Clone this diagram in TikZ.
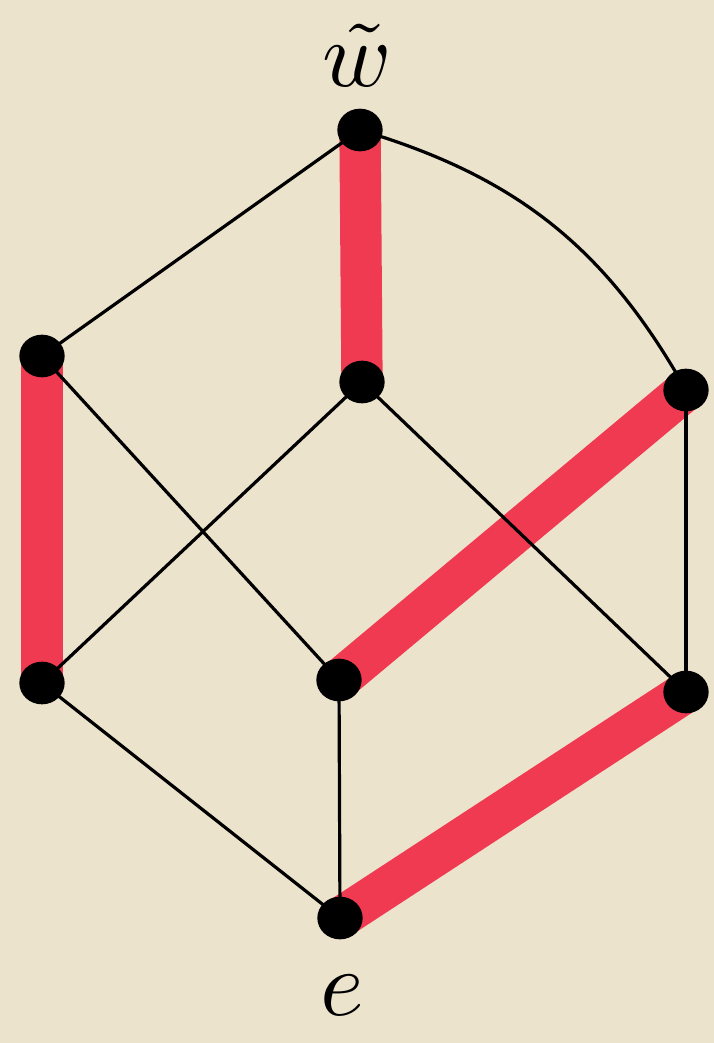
\documentclass[tikz,border=0pt]{standalone}
\begin{document}
\begin{tikzpicture}[x=0.75pt,y=-0.75pt,
  dot/.style={ellipse,fill=black,minimum width=34pt,minimum height=32pt,inner sep=0pt},
  blk/.style={line width=2.4pt,black,line cap=round},
  hl/.style={line width=31pt,draw=hlred},
  lab/.style={scale=7,inner sep=0pt}]
\usetikzlibrary{shapes.geometric}
\definecolor{paper}{RGB}{236,227,204}
\definecolor{hlred}{RGB}{240,58,82}
\fill[paper] (0,0) rectangle (714,1043);
\useasboundingbox (0,0) rectangle (714,1043);
\coordinate (w) at (360,130);
\coordinate (l1) at (42,356);
\coordinate (c1) at (362,382);
\coordinate (r1) at (686,390);
\coordinate (l2) at (42,683);
\coordinate (c2) at (339,680);
\coordinate (r2) at (686,692);
\coordinate (e) at (340,918);
% highlighted edges
\draw[hl] (w) -- (c1);
\draw[hl] (l1) -- (l2);
\draw[hl] (r1) -- (c2);
\draw[hl] (r2) -- (e);
% black edges
\draw[blk] (w) -- (l1);
\draw[blk] (w) to[bend left=22] (r1);
\draw[blk] (l1) -- (c2);
\draw[blk] (c1) -- (l2);
\draw[blk] (c1) -- (r2);
\draw[blk] (r1) -- (r2);
\draw[blk] (l2) -- (e);
\draw[blk] (c2) -- (e);
% vertices
\node[dot] (nw) at (w) {};
\node[dot] (nl1) at (l1) {};
\node[dot] (nc1) at (c1) {};
\node[dot] (nr1) at (r1) {};
\node[dot] (nl2) at (l2) {};
\node[dot] (nc2) at (c2) {};
\node[dot] (nr2) at (r2) {};
\node[dot] (ne) at (e) {};
% labels
\node[lab] (tw) at (357,55) {$\tilde{w}$};
\node[lab] (te) at (342,995) {$e$};
\end{tikzpicture}
\end{document}
